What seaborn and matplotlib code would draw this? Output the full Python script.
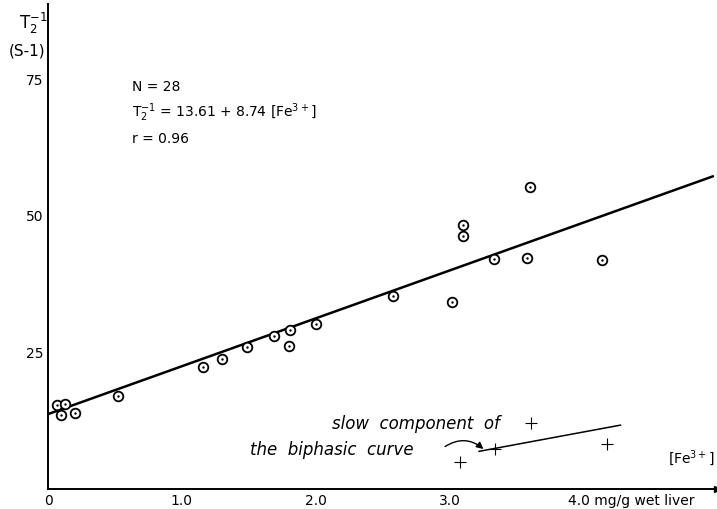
import matplotlib.pyplot as plt
import matplotlib.transforms as mtransforms
import numpy as np
import pandas as pd
import seaborn as sns

# fast component (circles)
fe_conc = [0.07, 0.13, 0.10, 0.20, 0.52, 1.16, 1.30, 1.49, 1.69, 1.80,
           1.81, 2.00, 2.58, 3.02, 3.10, 3.10, 3.33, 3.58, 3.60, 4.14]
t2_inv = [15.2, 15.5, 13.4, 13.8, 17.0, 22.3, 23.6, 25.9, 27.9, 26.0,
          29.0, 30.0, 35.2, 34.1, 48.2, 46.1, 42.0, 42.2, 55.1, 41.7]

# slow component of the biphasic curve (crosses)
slow_fe = [3.08, 3.34, 3.61, 4.18]
slow_t2 = [4.9, 7.3, 11.9, 8.2]
slow_line_x = [3.22, 4.28]
slow_line_y = [6.8, 11.6]

# regression given on the chart
intercept = 13.61
slope = 8.74
fit_x = [0.0, 4.97]

x_ticks = [0, 1, 2, 3, 4]
x_ticklabels = ["0", "1.0", "2.0", "3.0", "4.0 mg/g wet liver"]
y_ticks = [25, 50, 75]

sns.set_style("white")
plt.rcParams["font.family"] = ["DejaVu Sans"]
plt.rcParams["text.color"] = "black"
plt.rcParams["xtick.color"] = "black"
plt.rcParams["ytick.color"] = "black"

fig = plt.figure(figsize=(7.17, 5.10), dpi=100)
ax = fig.add_axes([0.067, 0.04, 0.933, 0.95])

pts = pd.DataFrame({"fe": fe_conc, "t2": t2_inv})
slow = pd.DataFrame({"fe": slow_fe, "t2": slow_t2})
fit = pd.DataFrame({"fe": fit_x, "t2": [intercept + slope * v for v in fit_x]})
slow_fit = pd.DataFrame({"fe": slow_line_x, "t2": slow_line_y})

sns.lineplot(data=fit, x="fe", y="t2", color="black", linewidth=1.8, ax=ax)
sns.lineplot(data=slow_fit, x="fe", y="t2", color="black", linewidth=1.1, ax=ax)
sns.scatterplot(data=pts, x="fe", y="t2", s=48, facecolor="white",
                edgecolor="black", linewidth=1.3, ax=ax, zorder=3)
sns.scatterplot(data=pts, x="fe", y="t2", s=3, color="black",
                linewidth=0, ax=ax, zorder=4)
sns.scatterplot(data=slow, x="fe", y="t2", marker="+", s=70, color="black",
                linewidth=0.8, ax=ax, zorder=3)

ax.set_xlim(0, 5.0)
ax.set_ylim(0, 88.5)
ax.set_xticks(x_ticks)
ax.set_xticklabels(x_ticklabels, fontsize=10)
ax.set_yticks(y_ticks)
ax.set_yticklabels([str(v) for v in y_ticks], fontsize=10)
ax.tick_params(direction="inout", length=4, width=0.8, pad=1)
ax.set_xlabel("")
ax.set_ylabel("")

# last tick label starts just left of its tick, the unit runs on to the right
last = ax.get_xticklabels()[-1]
last.set_ha("left")
last.set_transform(last.get_transform() +
                   mtransforms.ScaledTranslation(-11 / 72, 0, fig.dpi_scale_trans))

for side in ["top", "right"]:
    ax.spines[side].set_visible(False)
for side in ["left", "bottom"]:
    ax.spines[side].set_color("black")
    ax.spines[side].set_linewidth(1.4)

# arrow head on the x axis
ax.plot(1, 0, ">", color="black", markersize=5, transform=ax.transAxes,
        clip_on=False)

# axis labels
fig.text(0.027, 0.955, r"$\mathregular{T_2^{-1}}$", fontsize=12, ha="left", va="center")
fig.text(0.012, 0.900, "(S-1)", fontsize=11, ha="left", va="center")
ax.text(4.98, 4.0, r"[Fe$^{3+}$]", fontsize=10, ha="right", va="bottom")

# statistics
ax.text(0.63, 73.5, "N = 28", fontsize=10, ha="left", va="center")
ax.text(0.63, 68.8, r"T$_2^{-1}$ = 13.61 + 8.74 [Fe$^{3+}$]", fontsize=10,
        ha="left", va="center")
ax.text(0.63, 64.1, "r = 0.96", fontsize=10, ha="left", va="center")

# slow component annotation
ax.text(2.12, 12.0, "slow  component  of", fontsize=12, style="italic",
        ha="left", va="center")
ax.text(1.51, 7.3, "the  biphasic  curve", fontsize=12, style="italic",
        ha="left", va="center")
ax.annotate("", xy=(3.27, 6.9), xytext=(2.95, 7.4),
            arrowprops=dict(arrowstyle="-|>", color="black", lw=1.0,
                            connectionstyle="arc3,rad=-0.4"))

fig.savefig("out.png", dpi=100)
